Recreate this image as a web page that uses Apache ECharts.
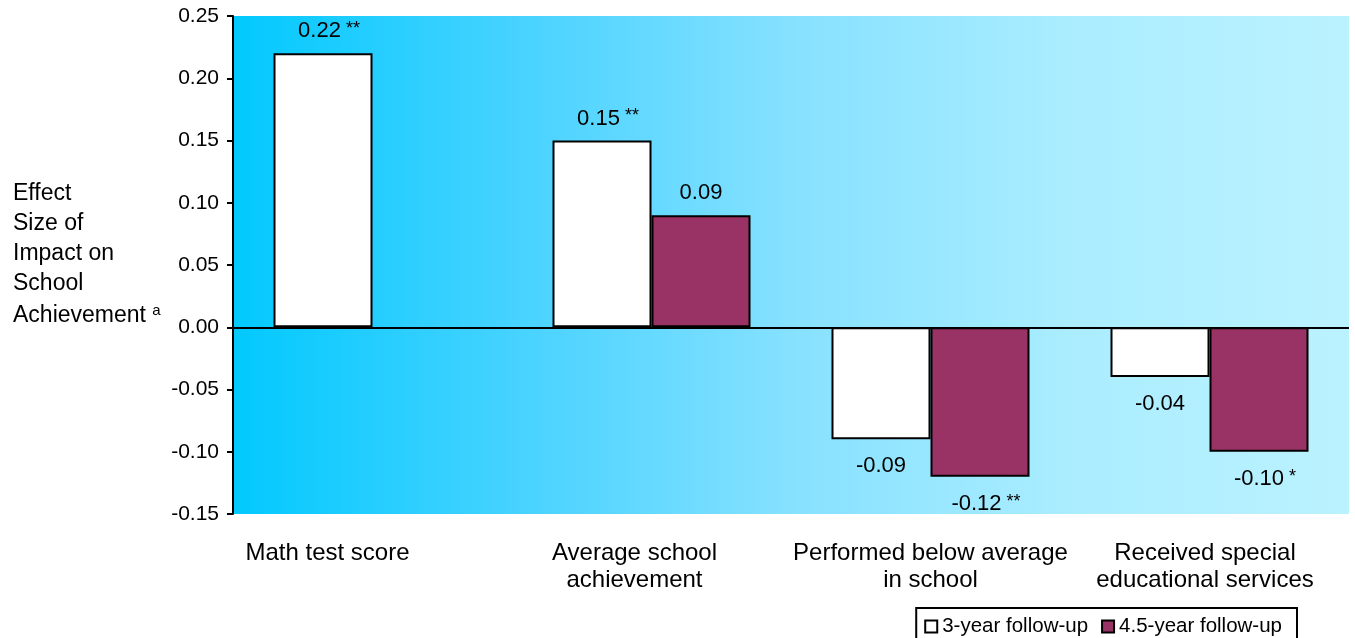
<!DOCTYPE html>
<html>
<head>
<meta charset="utf-8">
<script src="https://cdn.jsdelivr.net/npm/echarts@6/dist/echarts.min.js"></script>
<style>
html,body{margin:0;padding:0;background:#fff;}
#chart{width:1355px;height:638px;}
</style>
</head>
<body>
<div id="chart"></div>
<script>
// ---- data ----
const categories = ['Math test score', 'Average school\nachievement', 'Performed below average\nin school', 'Received special\neducational services'];
const seriesNames = ['3-year follow-up', '4.5-year follow-up'];
const values3yr = [0.22, 0.15, -0.09, -0.04];
const values45yr = [null, 0.09, -0.12, -0.10];
const sig3yr = ['**', '**', '', ''];
const sig45yr = ['', '', '**', '*'];
const yTicks = { min: -0.15, max: 0.25, interval: 0.05 };

const FONT = "'Liberation Sans', Arial, Helvetica, sans-serif";

function buildData(vals) {
  return vals.map(v => v === null ? null : {
    value: v,
    label: v < 0 ? { position: 'bottom', distance: 16 } : { position: 'top', distance: 11 }
  });
}
function labelFormatter(sig) {
  return function (p) {
    const s = sig[p.dataIndex];
    const num = p.value.toFixed(2);
    return s ? '{vs|' + num + '}{s| ' + s + '}' : '{v|' + num + '}';
  };
}
const labelRich = {
  v: { fontSize: 22, color: '#000', fontFamily: FONT },
  vs: { fontSize: 22, color: '#000', fontFamily: FONT, padding: [0, 0, 0, 12] },
  s: { fontSize: 18, color: '#000', fontFamily: FONT, verticalAlign: 'top' }
};
// per-category label offsets (style)
const xRich = {
  c0: { fontSize: 24, lineHeight: 27, color: '#000', fontFamily: FONT, padding: [0, 90, 0, 0] },
  c1: { fontSize: 24, lineHeight: 27, color: '#000', fontFamily: FONT, padding: [0, 34, 0, 0] },
  c2: { fontSize: 24, lineHeight: 27, color: '#000', fontFamily: FONT, padding: [0, 0, 0, 0] },
  c3: { fontSize: 24, lineHeight: 27, color: '#000', fontFamily: FONT, padding: [0, 9, 0, 0] }
};

const chart = echarts.init(document.getElementById('chart'), null, { renderer: 'canvas' });
chart.setOption({
  animation: false,
  backgroundColor: '#fff',
  textStyle: { fontFamily: FONT },
  title: {
    left: 13,
    top: 179,
    padding: 0,
    text: '{l|Effect}\n{l|Size of}\n{l|Impact on}\n{l|School}\n{l2|Achievement }{sup|a}',
    textStyle: {
      fontWeight: 'normal',
      rich: {
        l: { fontSize: 23, lineHeight: 30, color: '#000', fontFamily: FONT, fontWeight: 'normal' },
        l2: { fontSize: 23, lineHeight: 34, color: '#000', fontFamily: FONT, fontWeight: 'normal' },
        sup: { fontSize: 15, lineHeight: 15, color: '#000', fontFamily: FONT, fontWeight: 'normal', verticalAlign: 'top', padding: [4, 0, 0, 0] }
      }
    }
  },
  grid: {
    left: 233, right: 6, top: 16, bottom: 124,
    show: true,
    borderWidth: 0,
    backgroundColor: new echarts.graphic.LinearGradient(0, 0, 1, 0, [
      { offset: 0, color: '#02C9FE' },
      { offset: 0.25, color: '#45D2FF' },
      { offset: 0.5, color: '#86E1FF' },
      { offset: 0.75, color: '#AAEDFF' },
      { offset: 1, color: '#BBF2FF' }
    ])
  },
  legend: {
    data: seriesNames,
    right: 58,
    top: 608,
    orient: 'horizontal',
    icon: 'rect',
    itemWidth: 12,
    itemHeight: 12,
    itemGap: 13,
    borderColor: '#000',
    borderWidth: 2,
    borderRadius: 0,
    padding: [8, 15, 6, 8],
    textStyle: { fontSize: 20.5, color: '#000', fontFamily: FONT }
  },
  xAxis: {
    type: 'category',
    data: categories,
    axisLine: { show: false, onZero: false },
    axisTick: { show: false },
    splitLine: { show: false },
    axisLabel: {
      interval: 0,
      margin: 26,
      formatter: function (value, idx) {
        return value.split('\n').map(l => '{c' + idx + '|' + l + '}').join('\n');
      },
      rich: xRich
    }
  },
  yAxis: {
    type: 'value',
    min: yTicks.min,
    max: yTicks.max,
    interval: yTicks.interval,
    axisLine: { show: true, lineStyle: { color: '#000', width: 2 } },
    axisTick: { show: true, length: 6, inside: false, lineStyle: { color: '#000', width: 2 } },
    splitLine: { show: false },
    axisLabel: {
      margin: 14,
      fontSize: 21,
      color: '#000',
      fontFamily: FONT,
      formatter: v => v.toFixed(2)
    }
  },
  series: [
    {
      name: seriesNames[0],
      type: 'bar',
      barWidth: 99,
      barGap: '0%',
      data: buildData(values3yr),
      itemStyle: { color: '#ffffff', borderColor: '#000', borderWidth: 2 },
      label: { show: true, formatter: labelFormatter(sig3yr), rich: labelRich },
      markLine: {
        silent: true,
        symbol: ['none', 'none'],
        label: { show: false },
        lineStyle: { color: '#000', width: 2, type: 'solid' },
        data: [{ yAxis: 0 }],
        z: 10
      }
    },
    {
      name: seriesNames[1],
      type: 'bar',
      barWidth: 99,
      barGap: '0%',
      data: buildData(values45yr),
      itemStyle: { color: '#993366', borderColor: '#000', borderWidth: 2 },
      label: { show: true, formatter: labelFormatter(sig45yr), rich: labelRich }
    }
  ]
});
</script>
</body>
</html>
